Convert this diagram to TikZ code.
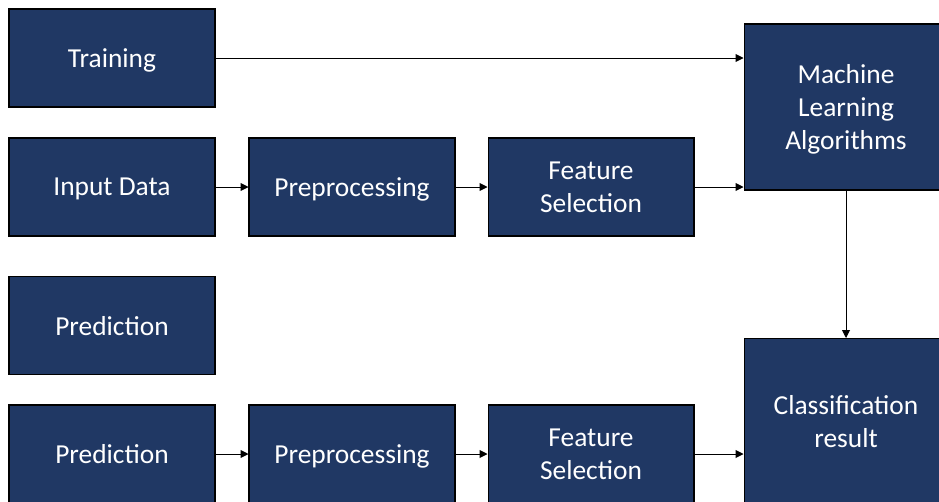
\documentclass[tikz,border=0pt]{standalone}
\usepackage{fontspec}
\setmainfont{Carlito}
\usepackage{tikz}
\usetikzlibrary{arrows.meta,positioning}
\definecolor{navy}{HTML}{203864}
\tikzset{
  blk/.style={draw=black, line width=0.6pt, fill=navy, text=white, align=center,
    minimum width=4.12cm, minimum height=1.96cm, inner sep=2pt, text depth=0pt,
    font=\fontsize{15.6pt}{18.9pt}\selectfont},
  bigblk/.style={blk, minimum width=4.08cm, minimum height=3.32cm},
  flow/.style={-{Triangle[length=4.5pt,width=4.5pt]}, line width=0.5pt}
}
\begin{document}
\begin{tikzpicture}[x=0.02cm,y=-0.02cm]
\useasboundingbox (0,0) rectangle (939,501);
\clip (0,0) rectangle (939,501);

% left column
\node[blk] (train) at (112,58) {Training};
\node[blk] (indata) at (112,187) {Input Data};
\node[blk] (predlbl) at (112,325.5) {Prediction};
\node[blk] (preddata) at (112,454) {Prediction};

% training row
\node[blk] (prep1) at (352,187) {Preprocessing};
\node[blk] (feat1) at (591,187) {Feature\\Selection};
\node[bigblk] (mla) at (846,107) {Machine\\Learning\\Algorithms};

% prediction row
\node[blk] (prep2) at (352,454) {Preprocessing};
\node[blk] (feat2) at (591,454) {Feature\\Selection};
\node[bigblk] (cls) at (846,421.5) {Classification\\result};

\draw[flow] (train.east) -- (train.east -| mla.west);
\draw[flow] (indata) -- (prep1);
\draw[flow] (prep1) -- (feat1);
\draw[flow] (feat1.east) -- (feat1.east -| mla.west);
\draw[flow] (mla) -- (cls);

\draw[flow] (preddata) -- (prep2);
\draw[flow] (prep2) -- (feat2);
\draw[flow] (feat2.east) -- (feat2.east -| cls.west);
\end{tikzpicture}
\end{document}
